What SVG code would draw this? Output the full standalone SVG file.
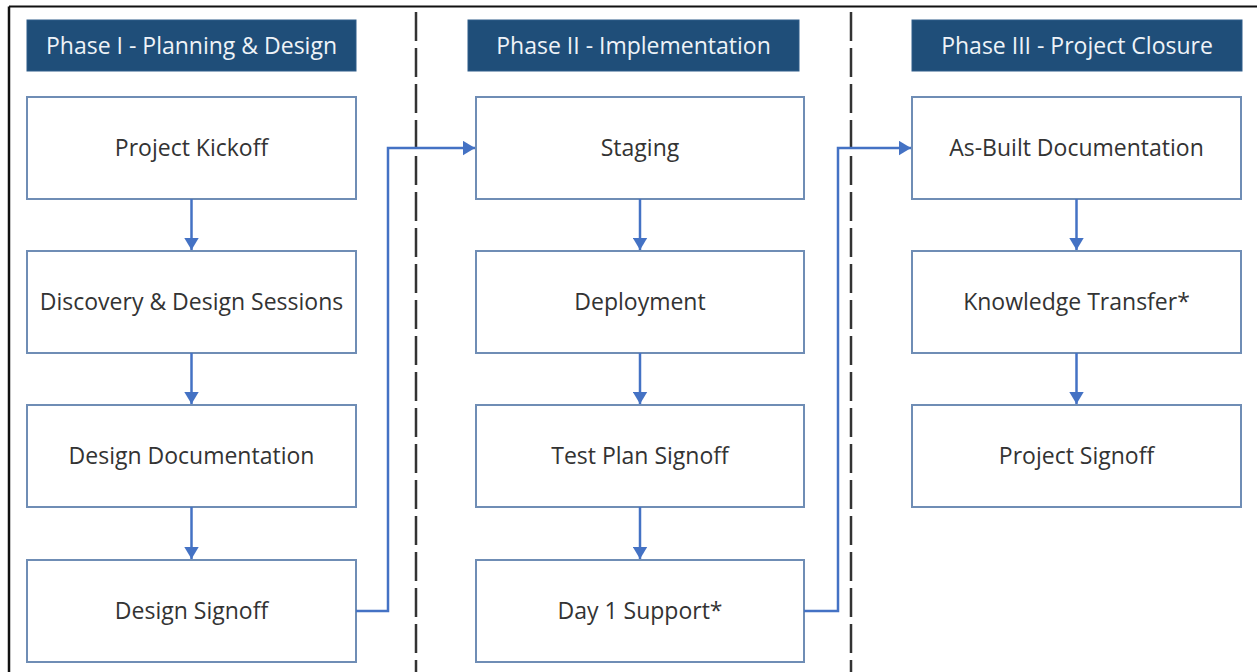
<svg xmlns="http://www.w3.org/2000/svg" width="1257" height="672" viewBox="0 0 1257 672">
<style>
.hdr{fill:#1f4e79;stroke:#2e5c8a;stroke-width:1}
.hdrt{fill:#eef3f8;font-family:"Open Sans",sans-serif;font-size:23px;text-anchor:middle}
.box{fill:#ffffff;stroke:#6f8db5;stroke-width:2}
.bt{fill:#333333;font-family:"Open Sans",sans-serif;font-size:23px;text-anchor:middle}
.con{fill:none;stroke:#4472c4;stroke-width:2.5}
.div{stroke:#333333;stroke-width:2.5;stroke-dasharray:29 7}
</style>
<defs>
<marker id="ah" markerWidth="6" markerHeight="6" refX="5" refY="3" orient="auto" markerUnits="strokeWidth">
<path d="M0,0 L5,3 L0,6 Z" fill="#4472c4"/>
</marker>
</defs>
<rect x="0" y="0" width="1257" height="672" fill="#ffffff"/>
<g id="frame">
<line x1="9" y1="6.5" x2="1257" y2="6.5" stroke="#111" stroke-width="2"/>
<line x1="9" y1="6.5" x2="9" y2="672" stroke="#111" stroke-width="2.5"/>
<line class="div" x1="416" y1="12" x2="416" y2="672"/>
<line class="div" x1="851" y1="12" x2="851" y2="672"/>
</g>
<g id="h1"><rect class="hdr" x="27" y="20" width="329" height="51"/><text class="hdrt" x="191.5" y="54">Phase I - Planning &amp; Design</text></g>
<g id="h2"><rect class="hdr" x="468" y="20" width="331" height="51"/><text class="hdrt" x="633.5" y="54">Phase II - Implementation</text></g>
<g id="h3"><rect class="hdr" x="912" y="20" width="330" height="51"/><text class="hdrt" x="1077" y="54">Phase III - Project Closure</text></g>

<g id="n1"><rect class="box" x="27" y="97" width="329" height="102"/><text class="bt" x="191.5" y="156">Project Kickoff</text></g>
<g id="n2"><rect class="box" x="27" y="251" width="329" height="102"/><text class="bt" x="191.5" y="310">Discovery &amp; Design Sessions</text></g>
<g id="n3"><rect class="box" x="27" y="405" width="329" height="102"/><text class="bt" x="191.5" y="464">Design Documentation</text></g>
<g id="n4"><rect class="box" x="27" y="560" width="329" height="102"/><text class="bt" x="191.5" y="619">Design Signoff</text></g>

<g id="n5"><rect class="box" x="476" y="97" width="328" height="102"/><text class="bt" x="640" y="156">Staging</text></g>
<g id="n6"><rect class="box" x="476" y="251" width="328" height="102"/><text class="bt" x="640" y="310">Deployment</text></g>
<g id="n7"><rect class="box" x="476" y="405" width="328" height="102"/><text class="bt" x="640" y="464">Test Plan Signoff</text></g>
<g id="n8"><rect class="box" x="476" y="560" width="328" height="102"/><text class="bt" x="640" y="619">Day 1 Support*</text></g>

<g id="n9"><rect class="box" x="912" y="97" width="329" height="102"/><text class="bt" x="1076.5" y="156">As-Built Documentation</text></g>
<g id="n10"><rect class="box" x="912" y="251" width="329" height="102"/><text class="bt" x="1076.5" y="310">Knowledge Transfer*</text></g>
<g id="n11"><rect class="box" x="912" y="405" width="329" height="102"/><text class="bt" x="1076.5" y="464">Project Signoff</text></g>

<g id="connectors">
<line class="con" x1="191.5" y1="199" x2="191.5" y2="250" marker-end="url(#ah)"/>
<line class="con" x1="191.5" y1="353" x2="191.5" y2="404" marker-end="url(#ah)"/>
<line class="con" x1="191.5" y1="507" x2="191.5" y2="559" marker-end="url(#ah)"/>
<polyline class="con" points="356,611 388,611 388,148 475,148" marker-end="url(#ah)"/>
<line class="con" x1="640" y1="199" x2="640" y2="250" marker-end="url(#ah)"/>
<line class="con" x1="640" y1="353" x2="640" y2="404" marker-end="url(#ah)"/>
<line class="con" x1="640" y1="507" x2="640" y2="559" marker-end="url(#ah)"/>
<polyline class="con" points="804,611 838,611 838,148 911,148" marker-end="url(#ah)"/>
<line class="con" x1="1076.5" y1="199" x2="1076.5" y2="250" marker-end="url(#ah)"/>
<line class="con" x1="1076.5" y1="353" x2="1076.5" y2="404" marker-end="url(#ah)"/>
</g>
</svg>
